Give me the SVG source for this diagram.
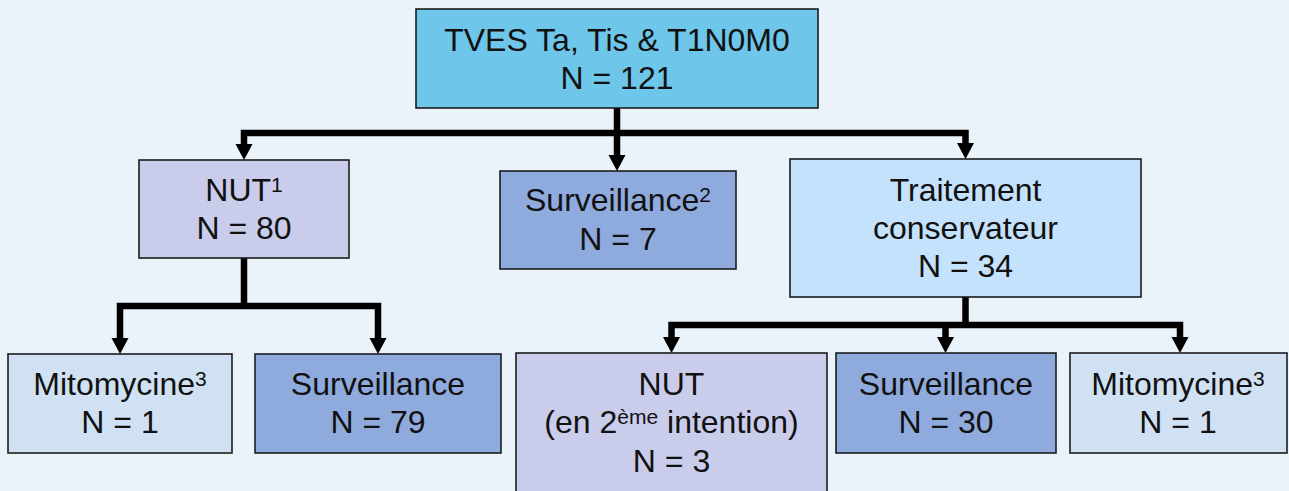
<svg xmlns="http://www.w3.org/2000/svg" width="1289" height="491" viewBox="0 0 1289 491">
  <defs>
    <style>
      .box { stroke: #1c1c1c; stroke-width: 1.6; }
      .root { fill: #6EC6EA; }
      .nut { fill: #C9CCEA; }
      .surv { fill: #8FAADC; }
      .trait { fill: #C5E2FC; }
      .mito { fill: #CFE1F3; }
      .lbl { font-family: "Liberation Sans", Arial, sans-serif; font-size: 32px; fill: #111; text-anchor: middle; }
      .sup { font-size: 21px; }
      .wire { fill: none; stroke: #000; stroke-width: 6.5; stroke-linejoin: miter; stroke-linecap: butt; }
      .head { fill: #000; }
    </style>
  </defs>

  <rect x="0" y="0" width="1289" height="491" fill="#EAF2FA"/>

  <!-- connectors -->
  <g id="connectors">
    <!-- root to first level -->
    <path class="wire" d="M617,108 V133"/>
    <path class="wire" d="M244,145 V133 H965.5 V144"/>
    <path class="wire" d="M617,133 V156"/>
    <polygon class="head" points="235.5,144 252.5,144 244,160"/>
    <polygon class="head" points="608.5,155 625.5,155 617,171"/>
    <polygon class="head" points="957,143 974,143 965.5,159"/>

    <!-- NUT branch -->
    <path class="wire" d="M244,258 V306"/>
    <path class="wire" d="M120,339 V306 H378 V339"/>
    <polygon class="head" points="111.5,338 128.5,338 120,354"/>
    <polygon class="head" points="369.5,338 386.5,338 378,354"/>

    <!-- conservative treatment branch -->
    <path class="wire" d="M965.5,297 V325"/>
    <path class="wire" d="M671.5,338 V325 H1180 V338"/>
    <path class="wire" d="M945.5,325 V338"/>
    <polygon class="head" points="663,337 680,337 671.5,353"/>
    <polygon class="head" points="937,337 954,337 945.5,353"/>
    <polygon class="head" points="1171.5,337 1188.5,337 1180,353"/>
  </g>

  <g id="root">
    <rect class="box root" x="416" y="9" width="402" height="99"/>
    <text class="lbl" x="617" y="51">TVES Ta, Tis &amp; T1N0M0</text>
    <text class="lbl" x="617" y="89">N = 121</text>
  </g>

  <g id="nut">
    <rect class="box nut" x="139" y="160" width="210" height="98"/>
    <text class="lbl" x="244" y="201">NUT<tspan class="sup" dy="-9">1</tspan></text>
    <text class="lbl" x="244" y="239">N = 80</text>
  </g>

  <g id="surveillance-primary">
    <rect class="box surv" x="500" y="171" width="236" height="98"/>
    <text class="lbl" x="618" y="211">Surveillance<tspan class="sup" dy="-9">2</tspan></text>
    <text class="lbl" x="618" y="250">N = 7</text>
  </g>

  <g id="traitement">
    <rect class="box trait" x="790" y="159" width="351" height="138"/>
    <text class="lbl" x="965.5" y="201">Traitement</text>
    <text class="lbl" x="965.5" y="239">conservateur</text>
    <text class="lbl" x="965.5" y="277">N = 34</text>
  </g>

  <g id="nut-mitomycine">
    <rect class="box mito" x="8" y="354" width="224" height="99"/>
    <text class="lbl" x="120" y="395">Mitomycine<tspan class="sup" dy="-9">3</tspan></text>
    <text class="lbl" x="120" y="433">N = 1</text>
  </g>

  <g id="nut-surveillance">
    <rect class="box surv" x="255" y="354" width="246" height="99"/>
    <text class="lbl" x="378" y="395">Surveillance</text>
    <text class="lbl" x="378" y="433">N = 79</text>
  </g>

  <g id="tc-nut">
    <rect class="box nut" x="516" y="353" width="311" height="145"/>
    <text class="lbl" x="671.5" y="395">NUT</text>
    <text class="lbl" x="671.5" y="433">(en 2<tspan class="sup" dy="-9">ème</tspan><tspan dy="9"> intention)</tspan></text>
    <text class="lbl" x="671.5" y="472">N = 3</text>
  </g>

  <g id="tc-surveillance">
    <rect class="box surv" x="836" y="353" width="220" height="100"/>
    <text class="lbl" x="946" y="395">Surveillance</text>
    <text class="lbl" x="946" y="433">N = 30</text>
  </g>

  <g id="tc-mitomycine">
    <rect class="box mito" x="1070" y="353" width="217" height="100"/>
    <text class="lbl" x="1178" y="395">Mitomycine<tspan class="sup" dy="-9">3</tspan></text>
    <text class="lbl" x="1178" y="433">N = 1</text>
  </g>
</svg>
